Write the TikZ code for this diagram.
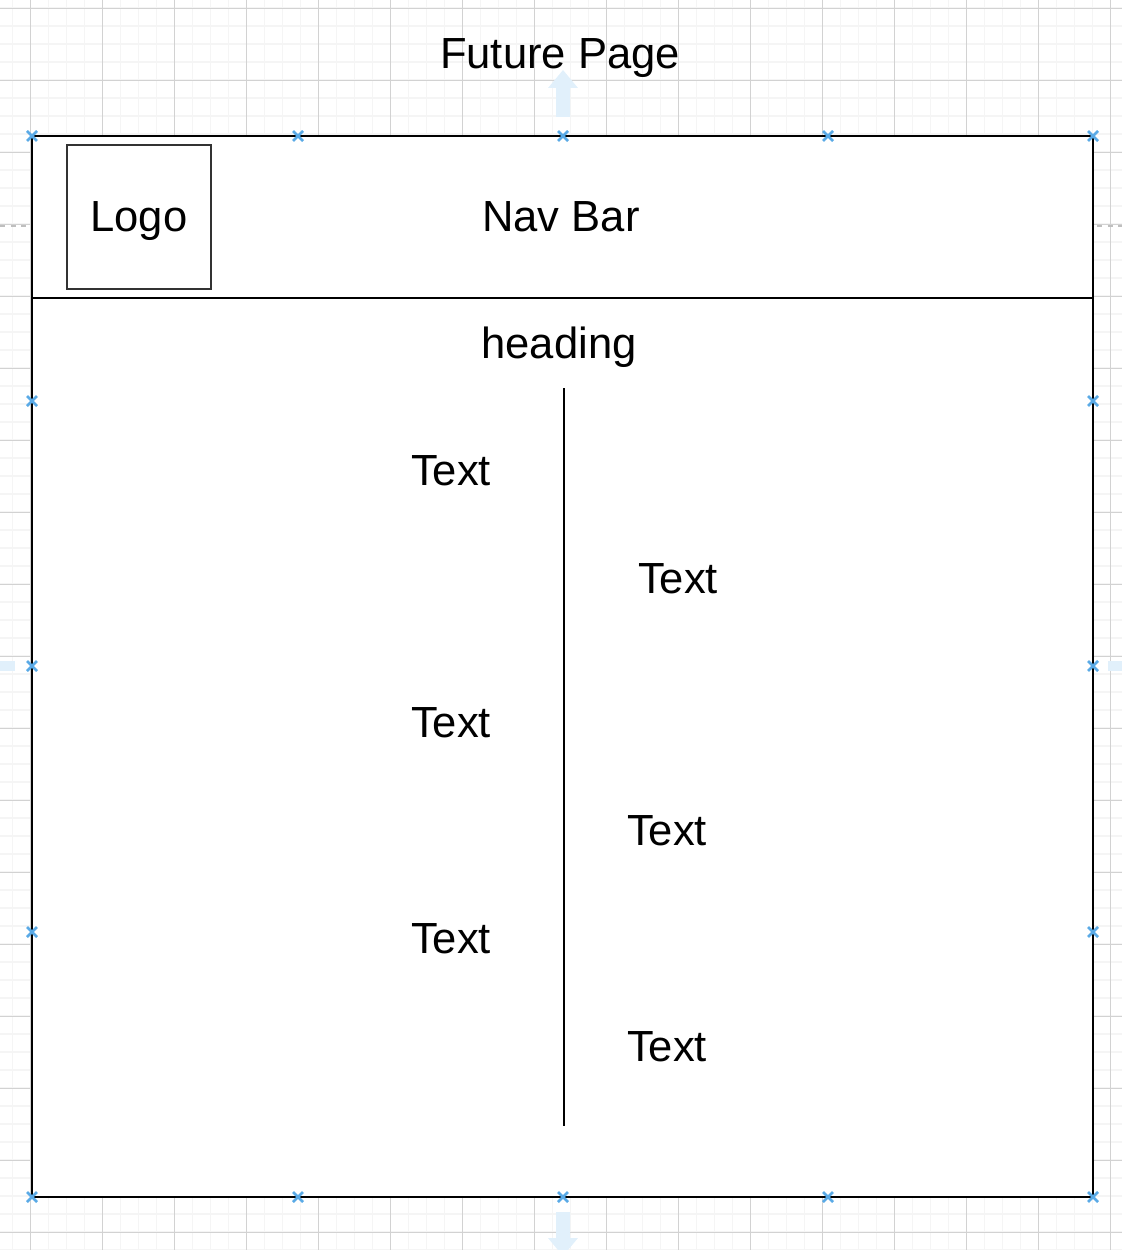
\documentclass[tikz,border=0pt]{standalone}
\usepackage{fontspec}
\setmainfont{Liberation Sans}
\definecolor{handle}{RGB}{90,170,230}
\definecolor{hint}{RGB}{225,240,251}
\tikzset{
	label/.style={font=\fontsize{24.8}{29}\selectfont, inner sep=0pt, anchor=base},
	handlemark/.style={draw=handle, line width=1.5pt},
}
\begin{document}
\begin{tikzpicture}[x=0.02cm, y=-0.02cm]
		\useasboundingbox (0,0) rectangle (1122,1250);

		% background grid
		\foreach \i in {0,...,61}{
				\draw[gray!8, line width=0.6pt] ({12.5+18*\i}, 0) -- ++(0, 1250);
			}
		\foreach \i in {0,...,69}{
				\draw[gray!8, line width=0.6pt] (0, {8+18*\i}) -- ++(1122, 0);
			}
		\foreach \i in {0,...,15}{
				\draw[gray!35, line width=0.5pt] ({30.5+72*\i}, 0) -- ++(0, 1250);
			}
		\foreach \i in {0,...,17}{
				\draw[gray!35, line width=0.5pt] (0, {8+72*\i}) -- ++(1122, 0);
			}

		% hints round the page
		\fill[hint] (556, 117) -- (556, 88) -- (548, 88) -- (563, 70) -- (578, 88) -- (570, 88) -- (570, 117) -- cycle;
		\fill[hint] (556, 1212) -- (556, 1238) -- (548, 1238) -- (563, 1256) -- (578, 1238) -- (570, 1238) -- (570, 1212) -- cycle;
		\fill[hint] (0, 661) rectangle (15, 671);
		\fill[hint] (1108, 661) rectangle (1122, 671);
		\draw[gray!50, dashed, line width=0.8pt] (0, 226) -- (26, 226);
		\draw[gray!50, dashed, line width=0.8pt] (1097, 226) -- (1122, 226);

		% page
		\draw[line width=0.8pt, fill=white] (32, 136) rectangle (1093, 1197);
		\draw[line width=0.8pt] (32, 298) -- (1093, 298);
		\draw[black!80, line width=0.8pt] (67, 145) rectangle (211, 289);
		\draw[line width=0.8pt] (564, 388) -- (564, 1126);

		\node[label] (title) at (560, 69) {Future Page};
		\node[label] (logo) at (139, 232) {Logo};
		\node[label] (navbar) at (561, 232) {Nav Bar};
		\node[label] (heading) at (559, 358) {heading};

		\node[label] (textl1) at (451, 485) {Text};
		\node[label] (textl2) at (451, 737) {Text};
		\node[label] (textl3) at (451, 953) {Text};

		\node[label] (textr1) at (678, 593) {Text};
		\node[label] (textr2) at (667, 845) {Text};
		\node[label] (textr3) at (667, 1061) {Text};

		% selection handles
		\foreach \x in {32, 298, 563, 828, 1093}{
				\foreach \y in {136, 1197}{
						\draw[handlemark] (\x-5, \y-5) -- (\x+5, \y+5) (\x-5, \y+5) -- (\x+5, \y-5);
					}
			}
		\foreach \y in {401, 666, 932}{
				\foreach \x in {32, 1093}{
						\draw[handlemark] (\x-5, \y-5) -- (\x+5, \y+5) (\x-5, \y+5) -- (\x+5, \y-5);
					}
			}
	\end{tikzpicture}
\end{document}
